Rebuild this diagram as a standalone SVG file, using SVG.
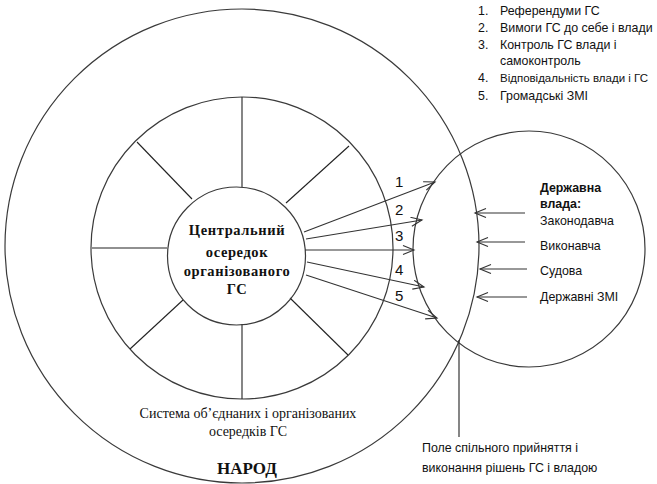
<svg xmlns="http://www.w3.org/2000/svg" width="657" height="484" viewBox="0 0 657 484">
<style>
.c{fill:none;stroke:#3a3a3a;stroke-width:1.2}
.s{stroke:#222;stroke-width:1.1}
.a{fill:none;stroke:#333;stroke-width:1.1}
.sans{font-family:"Liberation Sans","Noto Sans",sans-serif;font-size:12.4px;fill:#111}
.num{font-family:"Liberation Sans","Noto Sans",sans-serif;font-size:15px;fill:#111}
.serif{font-family:"Liberation Serif","DejaVu Serif",serif;fill:#111}
</style>
<defs>
<marker id="ah" markerUnits="userSpaceOnUse" markerWidth="14" markerHeight="12" refX="12" refY="5" orient="auto">
<path d="M1,0.5 L12,5 L1,9.5" fill="none" stroke="#333" stroke-width="1.1"/>
</marker>
</defs>
<rect width="657" height="484" fill="#fff"/>
<g id="narod">
<circle class="c" cx="242" cy="246" r="237"/>
<text class="serif" x="247" y="474" font-size="17" font-weight="bold" text-anchor="middle">НАРОД</text>
</g>
<g id="system">
<circle class="c" cx="242" cy="248" r="151"/>
<line class="s" x1="242" y1="97" x2="242" y2="187"/>
<line class="s" x1="92" y1="248" x2="167" y2="248"/>
<line class="s" x1="242" y1="324" x2="242" y2="399"/>
<line class="s" x1="137" y1="142" x2="192" y2="199"/>
<line class="s" x1="349" y1="146" x2="286" y2="203"/>
<line class="s" x1="130" y1="349" x2="183" y2="300"/>
<line class="s" x1="348" y1="355" x2="290" y2="298"/>
<text class="serif" x="248" y="418" font-size="14" text-anchor="middle">Система об’єднаних і організованих</text>
<text class="serif" x="248" y="436" font-size="14" text-anchor="middle">осередків ГС</text>
</g>
<g id="center">
<circle class="c" cx="236.5" cy="256" r="69"/>
<g class="serif" font-size="14.5" font-weight="bold" text-anchor="middle" letter-spacing="0.6">
<text x="237" y="235">Центральний</text>
<text x="237" y="257">осередок</text>
<text x="237" y="276">організованого</text>
<text x="237" y="294">ГС</text>
</g>
</g>
<g id="state">
<ellipse class="c" cx="529" cy="249" rx="116" ry="118"/>
<g class="sans">
<text x="540" y="192" font-weight="bold">Державна</text>
<text x="540" y="208" font-weight="bold">влада:</text>
<text x="540" y="225">Законодавча</text>
<text x="540" y="250">Виконавча</text>
<text x="540" y="275">Судова</text>
<text x="540" y="301">Державні ЗМІ</text>
</g>
</g>
<g id="list" class="sans">
<text x="478" y="15">1.</text><text x="500" y="15">Референдуми ГС</text>
<text x="478" y="32">2.</text><text x="500" y="32">Вимоги ГС до себе і влади</text>
<text x="478" y="49">3.</text><text x="500" y="49">Контроль ГС  влади і</text>
<text x="500" y="65">самоконтроль</text>
<text x="478" y="82">4.</text><text x="500" y="82" font-size="11.6" textLength="148" lengthAdjust="spacingAndGlyphs">Відповідальність влади і ГС</text>
<text x="478" y="100">5.</text><text x="500" y="100">Громадські ЗМІ</text>
</g>
<g id="field">
<text class="sans" x="422" y="452">Поле спільного прийняття і</text>
<text class="sans" x="422" y="472">виконання рішень ГС і владою</text>
</g>
<g id="connectors">
<line class="a" x1="304" y1="232" x2="435" y2="182" marker-end="url(#ah)"/>
<line class="a" x1="306" y1="239" x2="422" y2="220" marker-end="url(#ah)"/>
<line class="a" x1="305" y1="250" x2="414" y2="250" marker-end="url(#ah)"/>
<line class="a" x1="307" y1="262" x2="424" y2="287" marker-end="url(#ah)"/>
<line class="a" x1="306" y1="275" x2="437" y2="318" marker-end="url(#ah)"/>
<line class="a" x1="525" y1="213" x2="475" y2="213" marker-end="url(#ah)"/>
<line class="a" x1="525" y1="242" x2="477" y2="242" marker-end="url(#ah)"/>
<line class="a" x1="527" y1="269" x2="480" y2="269" marker-end="url(#ah)"/>
<line class="a" x1="527" y1="297" x2="477" y2="297" marker-end="url(#ah)"/>
<line class="s" x1="459" y1="340" x2="459" y2="437"/>
<g class="num">
<text x="395" y="187">1</text>
<text x="395" y="215">2</text>
<text x="395" y="241">3</text>
<text x="395" y="275">4</text>
<text x="395" y="301">5</text>
</g>
</g>
</svg>
